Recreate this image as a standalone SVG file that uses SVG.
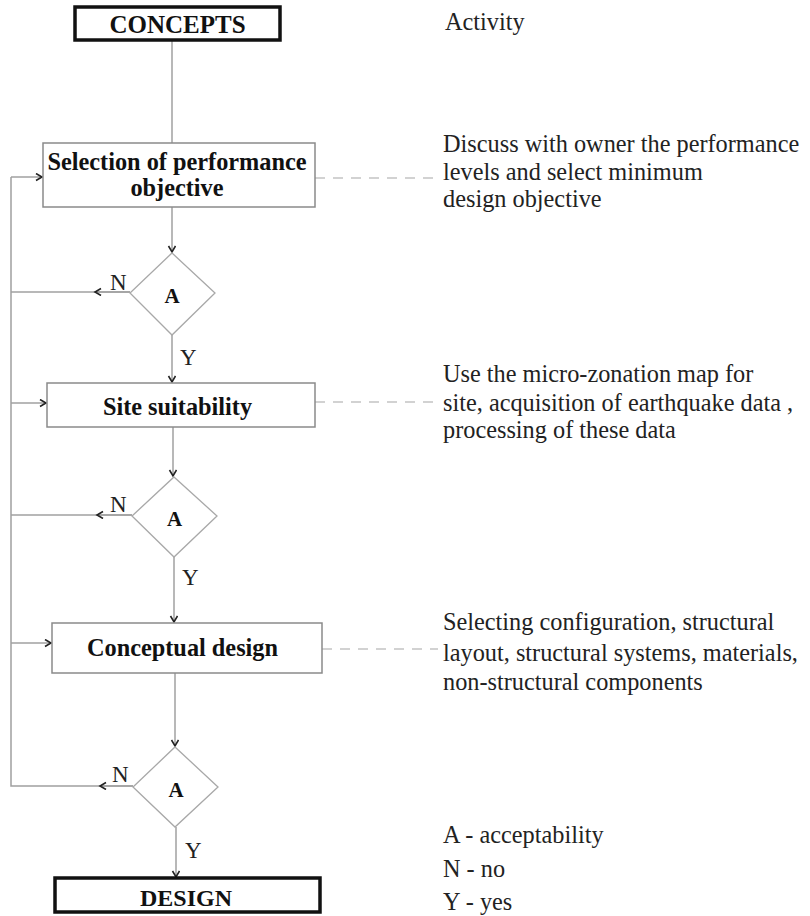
<svg xmlns="http://www.w3.org/2000/svg" width="810" height="916" viewBox="0 0 810 916">
  <style>
    .box { fill: #fff; stroke: #8a8a8a; stroke-width: 1.5; }
    .term { fill: #fff; stroke: #111; stroke-width: 3.5; }
    .dec { fill: #fff; stroke: #a8a8a8; stroke-width: 1.3; }
    .line { fill: none; stroke: #a0a0a0; stroke-width: 1.5; }
    .dash { fill: none; stroke: #c4c4c4; stroke-width: 1.5; stroke-dasharray: 10 8; }
    .lbl { font-family: "Liberation Serif", "Times New Roman", serif; font-weight: bold; fill: #111; text-anchor: middle; }
    .txt { font-family: "Liberation Serif", "Times New Roman", serif; fill: #222; font-size: 24.3px; }
    .yn { font-family: "Liberation Serif", "Times New Roman", serif; fill: #222; font-size: 23px; }
  </style>
  <defs>
    <marker id="arr" markerUnits="userSpaceOnUse" markerWidth="10" markerHeight="10" refX="7" refY="4" orient="auto">
      <path d="M1,0.5 L7,4 L1,7.5" fill="none" stroke="#222" stroke-width="1.6"/>
    </marker>
  </defs>

  <!-- connectors -->
  <g id="connectors">
    <line class="line" x1="172" y1="40" x2="172" y2="143"/>
    <line class="line" x1="172" y1="207" x2="172" y2="252" marker-end="url(#arr)"/>
    <line class="line" x1="172" y1="335" x2="172" y2="382" marker-end="url(#arr)"/>
    <line class="line" x1="173" y1="427" x2="173" y2="476" marker-end="url(#arr)"/>
    <line class="line" x1="174" y1="557" x2="174" y2="622" marker-end="url(#arr)"/>
    <line class="line" x1="175" y1="673" x2="175" y2="746" marker-end="url(#arr)"/>
    <line class="line" x1="176" y1="827" x2="176" y2="877" marker-end="url(#arr)"/>

    <!-- feedback loop on the left -->
    <polyline class="line" points="11,177 11,786 133,786"/>
    <line class="line" x1="11" y1="177" x2="42" y2="177" marker-end="url(#arr)"/>
    <line class="line" x1="11" y1="403" x2="46" y2="403" marker-end="url(#arr)"/>
    <line class="line" x1="11" y1="643" x2="51" y2="643" marker-end="url(#arr)"/>
    <line class="line" x1="11" y1="292" x2="130" y2="292"/>
    <line class="line" x1="11" y1="515" x2="132" y2="515"/>
    <line class="line" x1="130" y1="292" x2="95" y2="292" marker-end="url(#arr)"/>
    <line class="line" x1="132" y1="515" x2="97" y2="515" marker-end="url(#arr)"/>
    <line class="line" x1="133" y1="786" x2="100" y2="786" marker-end="url(#arr)"/>

    <!-- activity leaders -->
    <line class="dash" x1="315" y1="178" x2="441" y2="178"/>
    <line class="dash" x1="315" y1="402" x2="441" y2="402"/>
    <line class="dash" x1="322" y1="649" x2="438" y2="649"/>

    <!-- branch labels -->
    <text class="yn" x="110" y="290">N</text>
    <text class="yn" x="110" y="512">N</text>
    <text class="yn" x="112" y="782">N</text>
    <text class="yn" x="180" y="365">Y</text>
    <text class="yn" x="182" y="585">Y</text>
    <text class="yn" x="185" y="858">Y</text>
  </g>

  <g id="concepts">
    <rect class="term" x="75" y="7" width="205" height="33"/>
    <text class="lbl" x="177.5" y="33" font-size="25">CONCEPTS</text>
  </g>

  <g id="selection">
    <rect class="box" x="43" y="143" width="272" height="64"/>
    <text class="lbl" x="177" y="170" font-size="24.3">Selection of performance</text>
    <text class="lbl" x="177" y="196" font-size="24.3">objective</text>
  </g>

  <g id="decision1">
    <polygon class="dec" points="172,253 215,293 172,335 130,293"/>
    <text class="lbl" x="172" y="303" font-size="21">A</text>
  </g>

  <g id="site">
    <rect class="box" x="47" y="383" width="268" height="44"/>
    <text class="lbl" x="177.5" y="415" font-size="24.3">Site suitability</text>
  </g>

  <g id="decision2">
    <polygon class="dec" points="174,477 217,516 174,557 132,516"/>
    <text class="lbl" x="174.5" y="526" font-size="21">A</text>
  </g>

  <g id="conceptual">
    <rect class="box" x="52" y="623" width="270" height="50"/>
    <text class="lbl" x="182.5" y="656" font-size="24.3">Conceptual design</text>
  </g>

  <g id="decision3">
    <polygon class="dec" points="175,747 218,787 175,827 133,787"/>
    <text class="lbl" x="176" y="797" font-size="21">A</text>
  </g>

  <g id="design">
    <rect class="term" x="55" y="878" width="265" height="34"/>
    <text class="lbl" x="186" y="906" font-size="24">DESIGN</text>
  </g>

  <!-- activity descriptions -->
  <g id="activity">
    <text class="txt" x="445" y="30">Activity</text>
    <text class="txt" x="443" y="152">Discuss with owner the performance</text>
    <text class="txt" x="443" y="180">levels and select minimum</text>
    <text class="txt" x="443" y="207">design objective</text>
    <text class="txt" x="443" y="382">Use the micro-zonation map for</text>
    <text class="txt" x="443" y="411">site, acquisition of earthquake data ,</text>
    <text class="txt" x="443" y="438">processing of these data</text>
    <text class="txt" x="443" y="630">Selecting configuration, structural</text>
    <text class="txt" x="443" y="661">layout, structural systems, materials,</text>
    <text class="txt" x="443" y="690">non-structural components</text>
  </g>

  <!-- legend -->
  <g id="legend">
    <text class="txt" x="443" y="843">A - acceptability</text>
    <text class="txt" x="443" y="877">N - no</text>
    <text class="txt" x="443" y="910">Y - yes</text>
  </g>
</svg>
